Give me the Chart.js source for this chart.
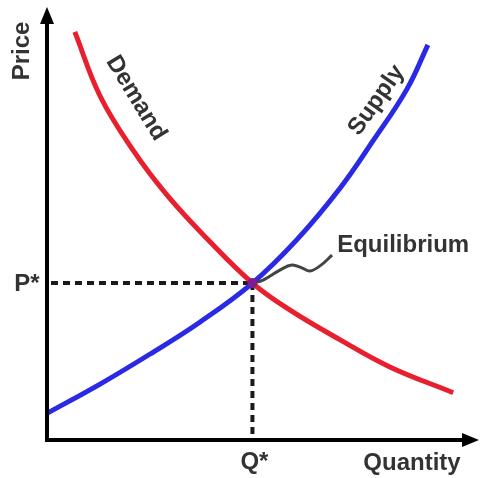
<!DOCTYPE html>
<html>
<head>
<meta charset="utf-8">
<script src="https://cdn.jsdelivr.net/npm/chart.js@4.4.1/dist/chart.umd.min.js"></script>
<style>
html,body{margin:0;padding:0;background:#fff;}
#wrap{width:480px;height:478px;position:relative;}
</style>
</head>
<body>
<div id="wrap"><canvas id="c"></canvas></div>
<script>
// ---- data ----
const demandX = [6.5, 12.4, 20.1, 28.0, 37.4, 48.0, 56.8, 68.5, 80.1, 94.9];
const demandY = [94.9, 80.0, 67.4, 57.0, 46.8, 36.5, 30.2, 23.3, 17.0, 11.0];
const supplyX = [0.2, 12.4, 24.1, 35.7, 48.0, 58.4, 68.5, 76.2, 84.1, 89.0];
const supplyY = [6.3, 13.0, 20.0, 27.4, 36.5, 46.6, 58.6, 69.6, 81.6, 91.9];
const equilibriumQ = 48.0;
const equilibriumP = 36.5;
const leaderX = [48.0, 50.5, 54.4, 57.2, 59.6, 61.4, 63.8, 66.6];
const leaderY = [36.5, 37.2, 39.5, 40.7, 40.0, 39.3, 40.5, 43.0];
const axisTitles = {x: 'Quantity', y: 'Price'};
const tickLabels = {x: 'Q*', y: 'P*'};
const curveLabels = [
  {text: 'Demand', x: 20.8, y: 79.5, angle: 58.6},
  {text: 'Supply', x: 77.0, y: 79.0, angle: -55},
  {text: 'Equilibrium', x: 67.8, y: 45.3, angle: 0, align: 'left'}
];

const toPts = (xs, ys) => xs.map((x, i) => ({x, y: ys[i]}));

const FONT = "bold 24px 'Liberation Sans', Arial, sans-serif";
const TXT = '#333333';

const decor = {
  id: 'decor',
  beforeDatasetsDraw(chart) {
    const {ctx, chartArea: a, scales: {x, y}} = chart;
    ctx.save();
    ctx.strokeStyle = '#1a1a1a';
    ctx.lineWidth = 4;
    ctx.setLineDash([7, 5]);
    const px = x.getPixelForValue(equilibriumQ), py = y.getPixelForValue(equilibriumP);
    ctx.beginPath();
    ctx.moveTo(a.left + 4, py); ctx.lineTo(px, py);
    ctx.moveTo(px, py); ctx.lineTo(px, a.bottom - 2);
    ctx.stroke();
    ctx.restore();
  },
  afterDatasetsDraw(chart) {
    const {ctx, chartArea: a, scales: {x, y}} = chart;
    ctx.save();
    ctx.strokeStyle = '#000'; ctx.fillStyle = '#000';
    ctx.lineWidth = 4; ctx.setLineDash([]);
    ctx.beginPath();
    ctx.moveTo(a.left, a.top + 6); ctx.lineTo(a.left, a.bottom);
    ctx.lineTo(a.right - 6, a.bottom);
    ctx.stroke();
    ctx.beginPath();
    ctx.moveTo(a.left, a.top - 3); ctx.lineTo(a.left - 7, a.top + 14); ctx.lineTo(a.left + 7, a.top + 14); ctx.closePath(); ctx.fill();
    ctx.beginPath();
    ctx.moveTo(a.right + 4, a.bottom); ctx.lineTo(a.right - 13, a.bottom - 7); ctx.lineTo(a.right - 13, a.bottom + 7); ctx.closePath(); ctx.fill();

    ctx.fillStyle = TXT; ctx.font = FONT;
    ctx.textBaseline = 'middle';
    ctx.save();
    ctx.translate(a.left - 25, a.top + 41);
    ctx.rotate(-Math.PI / 2);
    ctx.textAlign = 'center';
    ctx.fillText(axisTitles.y, 0, 0);
    ctx.restore();
    ctx.textAlign = 'center';
    ctx.fillText(axisTitles.x, a.right - 63, a.bottom + 23);
    ctx.fillText(tickLabels.y, a.left - 20, y.getPixelForValue(equilibriumP) + 1);
    ctx.fillText(tickLabels.x, x.getPixelForValue(equilibriumQ) + 2, a.bottom + 22);
    curveLabels.forEach(l => {
      ctx.save();
      ctx.translate(x.getPixelForValue(l.x), y.getPixelForValue(l.y));
      ctx.rotate(l.angle * Math.PI / 180);
      ctx.textAlign = l.align || 'center';
      ctx.fillText(l.text, 0, 0);
      ctx.restore();
    });
    ctx.restore();
  }
};

new Chart(document.getElementById('c'), {
  type: 'scatter',
  data: {
    datasets: [
      {label: 'Supply', data: toPts(supplyX, supplyY), showLine: true, borderColor: '#2a2ae6', borderWidth: 5, pointRadius: 0, tension: 0.4, order: 3},
      {label: 'Demand', data: toPts(demandX, demandY), showLine: true, borderColor: '#e8202e', borderWidth: 5, pointRadius: 0, tension: 0.4, order: 2},
      {label: 'Leader', data: toPts(leaderX, leaderY), showLine: true, borderColor: '#444', borderWidth: 3, pointRadius: 0, tension: 0.4, order: 1},
      {label: 'Equilibrium', data: [{x: equilibriumQ, y: equilibriumP}], showLine: false, pointRadius: 5, pointBackgroundColor: '#7a1f8f', pointBorderWidth: 0, order: 0}
    ]
  },
  options: {
    responsive: true,
    maintainAspectRatio: false,
    animation: false,
    layout: {padding: {left: 47, top: 10, right: 5, bottom: 38}},
    plugins: {legend: {display: false}, tooltip: {enabled: false}},
    scales: {
      x: {type: 'linear', min: 0, max: 100, display: false},
      y: {type: 'linear', min: 0, max: 100, display: false}
    }
  },
  plugins: [decor]
});
</script>
</body>
</html>
